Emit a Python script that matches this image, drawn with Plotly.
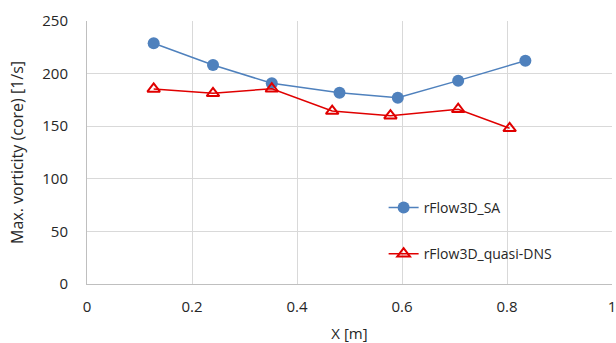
import plotly.graph_objects as go

x_sa = [0.127, 0.240, 0.352, 0.481, 0.592, 0.707, 0.835]
y_sa = [228.8, 208.2, 190.8, 181.9, 177.1, 193.3, 212.3]
x_dns = [0.127, 0.240, 0.352, 0.467, 0.578, 0.707, 0.805]
y_dns = [185.4, 181.3, 185.6, 164.4, 160.0, 166.1, 148.0]

x_ticks = [0, 0.2, 0.4, 0.6, 0.8, 1]
x_tick_labels = ["0", "0.2", "0.4", "0.6", "0.8", "1"]
y_ticks = [0, 50, 100, 150, 200, 250]

font_family = "Open Sans, Liberation Sans, sans-serif"
text_color = "#262626"
grid_color = "#d9d9d9"

fig = go.Figure()
fig.add_trace(go.Scatter(
    x=x_sa, y=y_sa, mode="lines+markers", name="rFlow3D_SA",
    line=dict(color="#4f81bd", width=1.5),
    marker=dict(symbol="circle", size=12, color="#4f81bd"),
    legendgroup="a",
))
fig.add_trace(go.Scatter(
    x=x_dns, y=y_dns, mode="lines+markers", name="rFlow3D_quasi-DNS",
    line=dict(color="#e00000", width=1.5),
    marker=dict(symbol="triangle-up-open", size=11, color="#e00000",
                line=dict(width=2, color="#e00000")),
    legendgroup="b",
))

fig.update_layout(
    width=616, height=343,
    margin=dict(l=87, r=4, t=21, b=59),
    paper_bgcolor="white", plot_bgcolor="white",
    font=dict(family=font_family, size=14, color=text_color),
    legend=dict(x=0.565, y=0.35, xanchor="left", yanchor="top",
                bgcolor="rgba(0,0,0,0)", traceorder="grouped",
                tracegroupgap=25, font=dict(size=14, color=text_color)),
    xaxis=dict(
        title=dict(text="X [m]", font=dict(size=15), standoff=15),
        range=[0, 1], tickvals=x_ticks, ticktext=x_tick_labels,
        tickfont=dict(size=15), ticklabeloverflow="allow",
        automargin=False,
        showgrid=True, gridcolor=grid_color, gridwidth=1,
        showline=True, linecolor="#bfbfbf", mirror=False,
        zeroline=False, ticks="", ticklabelstandoff=9,
    ),
    yaxis=dict(
        title=dict(text="Max. vorticity (core) [1/s]", font=dict(size=16), standoff=14),
        range=[0, 250], tickvals=y_ticks,
        tickfont=dict(size=15), automargin=False,
        showgrid=True, gridcolor=grid_color, gridwidth=1,
        showline=True, linecolor="#bfbfbf", mirror=False,
        zeroline=False, ticks="", ticklabelstandoff=15,
    ),
)
fig.write_html("out.html")
